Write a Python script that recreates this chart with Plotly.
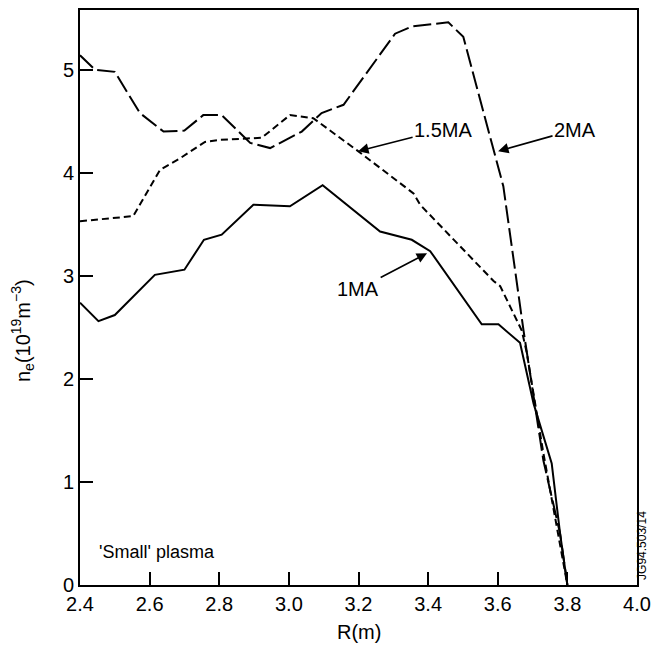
import plotly.graph_objects as go

# 1 MA (solid)
r_1ma = [2.40, 2.453, 2.50, 2.615, 2.70, 2.756, 2.807, 2.898, 3.003, 3.097, 3.262, 3.353, 3.406,
         3.554, 3.602, 3.64, 3.664, 3.703, 3.755, 3.779, 3.80]
n_1ma = [2.74, 2.56, 2.62, 3.01, 3.06, 3.35, 3.40, 3.69, 3.675, 3.88, 3.43, 3.35, 3.24,
         2.53, 2.53, 2.42, 2.35, 1.76, 1.18, 0.50, 0.0]

# 1.5 MA (short dash)
r_15ma = [2.40, 2.553, 2.63, 2.687, 2.759, 2.802, 2.922, 3.003, 3.07, 3.195, 3.358, 3.377,
          3.588, 3.607, 3.669, 3.683, 3.73, 3.80]
n_15ma = [3.53, 3.58, 4.03, 4.14, 4.30, 4.32, 4.34, 4.56, 4.53, 4.22, 3.80, 3.69,
          2.95, 2.90, 2.47, 2.26, 1.30, 0.0]

# 2 MA (long dash)
r_2ma = [2.40, 2.443, 2.50, 2.572, 2.64, 2.70, 2.754, 2.807, 2.889, 2.946, 3.037, 3.094,
         3.157, 3.305, 3.353, 3.458, 3.501, 3.616, 3.674, 3.731, 3.779, 3.80]
n_2ma = [5.14, 5.00, 4.98, 4.58, 4.40, 4.41, 4.56, 4.56, 4.29, 4.24, 4.40, 4.58,
         4.66, 5.35, 5.42, 5.46, 5.32, 3.87, 2.47, 1.21, 0.50, 0.0]

x_ticks = [2.4, 2.6, 2.8, 3.0, 3.2, 3.4, 3.6, 3.8, 4.0]
x_tick_labels = ["2.4", "2.6", "2.8", "3.0", "3.2", "3.4", "3.6", "3.8", "4.0"]
y_ticks = [0, 1, 2, 3, 4, 5]

FONT = "Liberation Sans, Arial, sans-serif"

fig = go.Figure()
fig.add_trace(go.Scatter(x=r_1ma, y=n_1ma, mode="lines", name="1MA",
                         line=dict(color="black", width=2)))
fig.add_trace(go.Scatter(x=r_15ma, y=n_15ma, mode="lines", name="1.5MA",
                         line=dict(color="black", width=2, dash="7px,4px")))
fig.add_trace(go.Scatter(x=r_2ma, y=n_2ma, mode="lines", name="2MA",
                         line=dict(color="black", width=2, dash="18px,5px")))

arrow = dict(showarrow=True, arrowhead=2, arrowsize=1.3, arrowwidth=1.6,
             arrowcolor="black", axref="x", ayref="y",
             font=dict(family=FONT, size=20, color="black"))
fig.add_annotation(x=3.199, y=4.21, ax=3.443, ay=4.42, text="1.5MA", **arrow)
fig.add_annotation(x=3.601, y=4.21, ax=3.822, ay=4.42, text="2MA", **arrow)
fig.add_annotation(x=3.397, y=3.22, ax=3.199, ay=2.87, text="1MA", **arrow)

fig.add_annotation(x=2.449, y=0.32, xref="x", yref="y", text="'Small' plasma",
                   showarrow=False, xanchor="left", yanchor="middle",
                   font=dict(family=FONT, size=18, color="black"))

fig.add_annotation(x=1.009, y=0.068, xref="paper", yref="paper", text="JG94.503/14",
                   showarrow=False, textangle=-90, xanchor="center", yanchor="middle",
                   font=dict(family=FONT, size=12, color="black"))

# the page body adds an 8px offset, so the figure is sized to fit the window
fig.update_layout(
    width=652, height=636,
    margin=dict(l=72, r=23, t=0, b=59),
    paper_bgcolor="white", plot_bgcolor="white",
    showlegend=False,
    font=dict(family=FONT, size=20, color="black"),
    xaxis=dict(range=[2.4, 4.0], tickvals=x_ticks, ticktext=x_tick_labels,
               ticks="inside", ticklen=13, tickwidth=1.5, tickcolor="black",
               showline=True, linecolor="black", linewidth=2, mirror=True,
               showgrid=False, zeroline=False,
               tickfont=dict(size=20)),
    yaxis=dict(range=[0, 5.58], tickvals=y_ticks,
               ticks="inside", ticklen=13, tickwidth=1.5, tickcolor="black",
               showline=True, linecolor="black", linewidth=2, mirror=True,
               showgrid=False, zeroline=False,
               tickfont=dict(size=20)),
)

# axis titles positioned as in the reference
fig.add_annotation(x=0.5, y=-0.0815, xref="paper", yref="paper", text="R(m)",
                   showarrow=False, xanchor="center", yanchor="middle",
                   font=dict(family=FONT, size=20, color="black"))
fig.add_annotation(x=-0.102, y=0.442, xref="paper", yref="paper",
                   text="n<sub>e</sub>(10<sup>19</sup>m<sup>−3</sup>)",
                   showarrow=False, textangle=-90, xanchor="center", yanchor="middle",
                   font=dict(family=FONT, size=20, color="black"))

fig.write_html("out.html")
